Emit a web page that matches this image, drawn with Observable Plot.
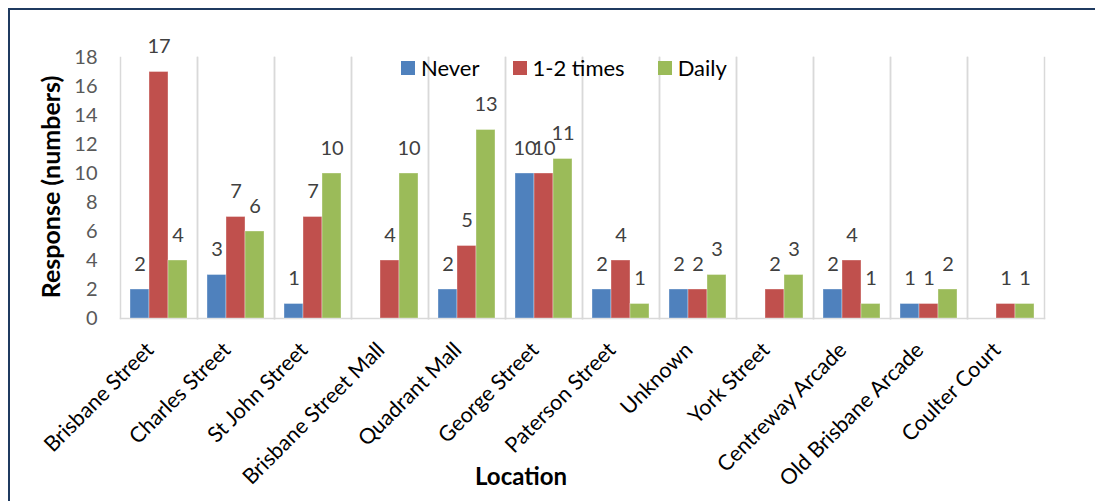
<!DOCTYPE html>
<html>
<head>
<meta charset="utf-8">
<script src="https://cdn.jsdelivr.net/npm/d3@7"></script>
<script src="https://cdn.jsdelivr.net/npm/@observablehq/plot@0.6"></script>
<style>
  html, body { margin: 0; padding: 0; background: #fff; overflow: hidden; }
  body { width: 1095px; height: 501px; position: relative; font-family: Lato, sans-serif; }
  #border { position: absolute; left: 8px; top: 8px; width: 1100px; height: 510px;
            border-top: 2px solid #1f3a60; border-left: 2px solid #1f3a60; box-sizing: border-box; }
  #chart { position: absolute; left: 0; top: 0; }
  #legend { position: absolute; left: 401px; top: 51px; }
  #legend .lg-swatch { margin-right: 33px !important; font-size: 22px; color: #000; }
  #legend .lg-swatch svg { margin-right: 6px; }
  #xtitle { position: absolute; left: 521px; top: 475px; transform: translate(-50%, -50%);
            font: bold 24px Lato, sans-serif; color: #000; white-space: nowrap; }
</style>
</head>
<body>
<div id="border"></div>
<div id="chart"></div>
<div id="legend"></div>
<div id="xtitle">Location</div>
<script>
const locations = ["Brisbane Street", "Charles Street", "St John Street", "Brisbane Street Mall",
  "Quadrant Mall", "George Street", "Paterson Street", "Unknown", "York Street",
  "Centreway Arcade", "Old Brisbane Arcade", "Coulter Court"];
const series = ["Never", "1-2 times", "Daily"];
const colors = ["#4f81bd", "#c0504d", "#9bbb59"];
const never    = [2, 3, 1, 0, 2, 10, 2, 2, 0, 2, 1, 0];
const times12  = [17, 7, 7, 4, 5, 10, 4, 2, 2, 4, 1, 1];
const daily    = [4, 6, 10, 10, 13, 11, 1, 3, 3, 1, 2, 1];
const yTicks = [0, 2, 4, 6, 8, 10, 12, 14, 16, 18];

const values = [never, times12, daily];
const data = [];
locations.forEach((loc, i) => {
  series.forEach((s, j) => data.push({loc, series: s, value: values[j][i]}));
});

const plot = Plot.plot({
  width: 1095,
  height: 501,
  marginLeft: 120,
  marginRight: 51,
  marginTop: 57,
  marginBottom: 183,
  style: {fontFamily: "Lato, sans-serif", background: "transparent"},
  fx: {domain: locations, padding: 0, label: null},
  x: {domain: series, paddingInner: 0, paddingOuter: 0.5, axis: null},
  y: {domain: [0, 18], label: null},
  color: {domain: series, range: colors},
  marks: [
    Plot.frame({anchor: "left", stroke: "#d9d9d9", strokeWidth: 1.5}),
    Plot.frame({anchor: "right", stroke: "#d9d9d9", strokeWidth: 1.5}),
    Plot.frame({anchor: "bottom", stroke: "#d9d9d9", strokeWidth: 1.5}),
    Plot.barY(data, {fx: "loc", x: "series", y: "value", fill: "series", stroke: "#ffffff", strokeOpacity: 0.35, strokeWidth: 1}),
    Plot.text(data.filter(d => d.value > 0), {fx: "loc", x: "series", y: "value", text: d => String(d.value),
      dy: -25, fontSize: 20, fill: "#404040"}),
    Plot.axisY({ticks: yTicks, tickSize: 0, tickPadding: 23, fontSize: 20, color: "#595959", label: null}),
    Plot.axisFx({anchor: "bottom", tickRotate: -45, tickSize: 0, tickPadding: 10, dx: -9, dy: 18,
      fontSize: 21.5, color: "#000", label: null})
  ]
});
document.getElementById("chart").appendChild(plot);

const ytitle = document.createElementNS("http://www.w3.org/2000/svg", "text");
ytitle.setAttribute("transform", "translate(50,187) rotate(-90)");
ytitle.setAttribute("text-anchor", "middle");
ytitle.setAttribute("dominant-baseline", "central");
ytitle.setAttribute("font-size", "25");
ytitle.setAttribute("font-weight", "bold");
ytitle.setAttribute("font-family", "Lato, sans-serif");
ytitle.textContent = "Response (numbers)";
plot.appendChild(ytitle);

const legend = Plot.legend({color: {domain: series, range: colors}, className: "lg", swatchSize: 14,
  style: {fontFamily: "Lato, sans-serif", fontSize: "22px", color: "#000"}});
document.getElementById("legend").appendChild(legend);
</script>
</body>
</html>
